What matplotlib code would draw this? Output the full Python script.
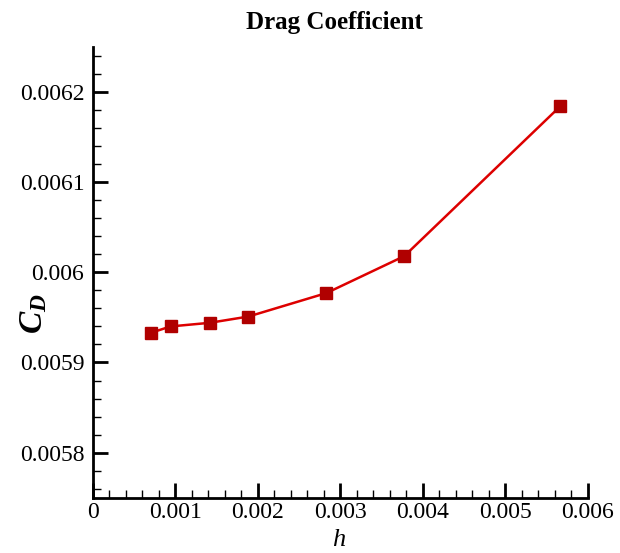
import numpy as np
import matplotlib
matplotlib.use('Agg')
import matplotlib.pyplot as plt
from matplotlib.ticker import MultipleLocator

h = [0.000708, 0.000944, 0.001416, 0.001888, 0.002832, 0.003776, 0.005664]
cd = [0.005933, 0.005940, 0.005944, 0.005951, 0.005977, 0.006018, 0.006184]

plt.rcParams['font.family'] = 'Liberation Serif'
plt.rcParams['mathtext.fontset'] = 'custom'
plt.rcParams['mathtext.it'] = 'Liberation Serif:italic'
plt.rcParams['mathtext.rm'] = 'Liberation Serif'
plt.rcParams['mathtext.bfit'] = 'Liberation Serif:italic:bold'

fs = 17
W, H = 620, 553

fig = plt.figure(figsize=(6.2, 5.53), dpi=100)
ax = fig.add_axes([0.1495, 0.1, 0.7985, 0.815])

ax.plot(h, cd, color='#dd0000', lw=1.8, marker='s', ms=8.5,
        mfc='#b00000', mec='#b00000', zorder=3)

ax.set_xlim(0, 0.006)
ax.set_ylim(0.00575, 0.00625)

ax.xaxis.set_major_locator(MultipleLocator(0.001))
ax.xaxis.set_minor_locator(MultipleLocator(0.0002))
ax.yaxis.set_major_locator(MultipleLocator(0.0001))
ax.yaxis.set_minor_locator(MultipleLocator(0.00002))

def fmt(v, pos):
    return ('%.4f' % v).rstrip('0').rstrip('.')

ax.xaxis.set_major_formatter(plt.FuncFormatter(fmt))
ax.yaxis.set_major_formatter(plt.FuncFormatter(fmt))

ax.spines['top'].set_visible(False)
ax.spines['right'].set_visible(False)
ax.spines['left'].set_linewidth(2)
ax.spines['bottom'].set_linewidth(2)

ax.tick_params(which='major', direction='in', length=11, width=2, labelsize=fs)
ax.tick_params(axis='x', which='major', pad=3)
ax.tick_params(axis='y', which='major', pad=6)
ax.tick_params(which='minor', direction='in', length=6, width=1)

# axis labels placed in pixel coordinates of the figure
fig.text(339 / W, 1 - 546 / H, 'h', fontsize=19, style='italic',
         ha='center', va='baseline')
fig.text(34 / W, 1 - 314 / H, r'$\mathbfit{C}_{\mathbfit{D}}$', fontsize=24,
         rotation=90, ha='center', va='center')
fig.text(334 / W, 1 - 22 / H, 'Drag Coefficient', fontsize=18, fontweight='bold',
         ha='center', va='center')

fig.savefig('out.png', dpi=100)
